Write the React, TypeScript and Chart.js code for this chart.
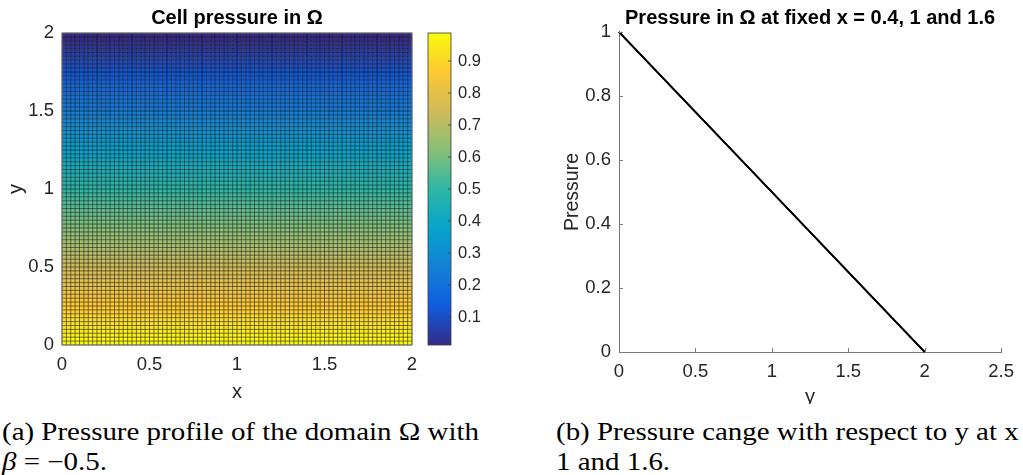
import React, { useEffect, useRef } from "react";
import { Chart, registerables } from "chart.js";

Chart.register(...registerables);

const SANS = "'Liberation Sans', Arial, sans-serif";
const SERIF = "'Liberation Serif', 'Times New Roman', serif";

// ---------- (a) cell pressure field ----------
const gridEdges = [
  0, 0.025, 0.05, 0.075, 0.1, 0.125, 0.15, 0.175, 0.2, 0.225, 0.25, 0.275, 0.3, 0.325, 0.35, 0.375,
  0.4, 0.425, 0.45, 0.475, 0.5, 0.525, 0.55, 0.575, 0.6, 0.625, 0.65, 0.675, 0.7, 0.725, 0.75, 0.775,
  0.8, 0.825, 0.85, 0.875, 0.9, 0.925, 0.95, 0.975, 1, 1.025, 1.05, 1.075, 1.1, 1.125, 1.15, 1.175,
  1.2, 1.225, 1.25, 1.275, 1.3, 1.325, 1.35, 1.375, 1.4, 1.425, 1.45, 1.475, 1.5, 1.525, 1.55, 1.575,
  1.6, 1.625, 1.65, 1.675, 1.7, 1.725, 1.75, 1.775, 1.8, 1.825, 1.85, 1.875, 1.9, 1.925, 1.95, 1.975, 2,
];
// pressure of each cell row, bottom row (y = 0) first; constant along x
const rowPressure = [
  0.9875, 0.975, 0.9625, 0.95, 0.9375, 0.925, 0.9125, 0.9, 0.8875, 0.875, 0.8625, 0.85, 0.8375, 0.825,
  0.8125, 0.8, 0.7875, 0.775, 0.7625, 0.75, 0.7375, 0.725, 0.7125, 0.7, 0.6875, 0.675, 0.6625, 0.65,
  0.6375, 0.625, 0.6125, 0.6, 0.5875, 0.575, 0.5625, 0.55, 0.5375, 0.525, 0.5125, 0.5, 0.4875, 0.475,
  0.4625, 0.45, 0.4375, 0.425, 0.4125, 0.4, 0.3875, 0.375, 0.3625, 0.35, 0.3375, 0.325, 0.3125, 0.3,
  0.2875, 0.275, 0.2625, 0.25, 0.2375, 0.225, 0.2125, 0.2, 0.1875, 0.175, 0.1625, 0.15, 0.1375, 0.125,
  0.1125, 0.1, 0.0875, 0.075, 0.0625, 0.05, 0.0375, 0.025, 0.0125, 0,
];
const fieldTicks = [0, 0.5, 1, 1.5, 2];
const colorbarTicks = [0.1, 0.2, 0.3, 0.4, 0.5, 0.6, 0.7, 0.8, 0.9];
const colorbarMin = 0.0125;
const colorbarMax = 0.9875;

// ---------- (b) pressure profiles ----------
const profileY = [0, 0.5, 1, 1.5, 2];
const pressureAtX04 = [1, 0.75, 0.5, 0.25, 0];
const pressureAtX10 = [1, 0.75, 0.5, 0.25, 0];
const pressureAtX16 = [1, 0.75, 0.5, 0.25, 0];
const profileXTicks = [0, 0.5, 1, 1.5, 2, 2.5];
const profileYTicks = [0, 0.2, 0.4, 0.6, 0.8, 1];

const parulaStops = ["#352a87", "#0f5cdd", "#1481d6", "#06a4ca", "#2eb7a4", "#87bf77", "#d1bb59", "#fec832", "#f9fb0e"];

const hexToRgb = (h: string) => [parseInt(h.slice(1, 3), 16), parseInt(h.slice(3, 5), 16), parseInt(h.slice(5, 7), 16)];
const parulaRgb = parulaStops.map(hexToRgb);
function parula(t: number): string {
  const c = Math.max(0, Math.min(1, t));
  const n = parulaRgb.length - 1;
  const p = c * n;
  const i = Math.min(n - 1, Math.floor(p));
  const f = p - i;
  const a = parulaRgb[i];
  const b = parulaRgb[i + 1];
  const m = (k: number) => Math.round(a[k] + (b[k] - a[k]) * f);
  return `rgb(${m(0)},${m(1)},${m(2)})`;
}

const TICK_COLOR = "#262626";
const AXIS_COLOR = "#7a7a7a";

// axes title centred over the plot area (like MATLAB), not over the canvas
const axesTitlePlugin = {
  id: "axesTitle",
  afterDraw(chart: any, _args: any, opts: any) {
    const { ctx, chartArea } = chart;
    ctx.save();
    ctx.font = `bold 20px ${SANS}`;
    ctx.fillStyle = "#000";
    ctx.textAlign = "center";
    ctx.textBaseline = "middle";
    ctx.fillText(opts.text, (chartArea.left + chartArea.right) / 2, opts.y);
    ctx.restore();
  },
};

const cellFieldPlugin = {
  id: "cellField",
  beforeDatasetsDraw(chart: any) {
    const { ctx, scales } = chart;
    const x = scales.x;
    const y = scales.y;
    ctx.save();
    for (let j = 0; j < rowPressure.length; j++) {
      const y0 = y.getPixelForValue(gridEdges[j]);
      const y1 = y.getPixelForValue(gridEdges[j + 1]);
      ctx.fillStyle = parula((rowPressure[j] - colorbarMin) / (colorbarMax - colorbarMin));
      for (let i = 0; i < gridEdges.length - 1; i++) {
        const x0 = x.getPixelForValue(gridEdges[i]);
        const x1 = x.getPixelForValue(gridEdges[i + 1]);
        ctx.fillRect(x0, y1, x1 - x0, y0 - y1);
      }
    }
    const top = y.getPixelForValue(gridEdges[gridEdges.length - 1]);
    const bottom = y.getPixelForValue(gridEdges[0]);
    const left = x.getPixelForValue(gridEdges[0]);
    const right = x.getPixelForValue(gridEdges[gridEdges.length - 1]);
    ctx.beginPath();
    for (const e of gridEdges) {
      const px = x.getPixelForValue(e);
      ctx.moveTo(px, top);
      ctx.lineTo(px, bottom);
      const py = y.getPixelForValue(e);
      ctx.moveTo(left, py);
      ctx.lineTo(right, py);
    }
    ctx.strokeStyle = "rgba(0,0,0,0.85)";
    ctx.lineWidth = 0.6;
    ctx.stroke();
    ctx.strokeStyle = AXIS_COLOR;
    ctx.lineWidth = 1;
    ctx.strokeRect(left, top, right - left, bottom - top);
    ctx.restore();
  },
  afterDraw(chart: any) {
    const { ctx, chartArea, scales } = chart;
    const cb = scales.cb;
    const top = cb.getPixelForValue(colorbarMax);
    const bottom = cb.getPixelForValue(colorbarMin);
    const x0 = chartArea.right + 16;
    const w = 23;
    ctx.save();
    const g = ctx.createLinearGradient(0, bottom, 0, top);
    parulaStops.forEach((c, i) => g.addColorStop(i / (parulaStops.length - 1), c));
    ctx.fillStyle = g;
    ctx.fillRect(x0, top, w, bottom - top);
    ctx.strokeStyle = "#3a3a3a";
    ctx.lineWidth = 0.8;
    ctx.strokeRect(x0, top, w, bottom - top);
    ctx.beginPath();
    for (const v of colorbarTicks) {
      const py = cb.getPixelForValue(v);
      ctx.moveTo(x0 + w, py);
      ctx.lineTo(x0 + w - 3, py);
    }
    ctx.stroke();
    ctx.restore();
  },
};

const inwardTicksPlugin = {
  id: "inwardTicks",
  afterDraw(chart: any) {
    const { ctx, chartArea: a, scales } = chart;
    ctx.save();
    ctx.strokeStyle = AXIS_COLOR;
    ctx.lineWidth = 1;
    ctx.beginPath();
    for (const v of profileXTicks) {
      const px = Math.round(scales.x.getPixelForValue(v)) + 0.5;
      ctx.moveTo(px, a.bottom);
      ctx.lineTo(px, a.bottom - 4);
    }
    for (const v of profileYTicks) {
      const py = Math.round(scales.y.getPixelForValue(v)) + 0.5;
      ctx.moveTo(a.left, py);
      ctx.lineTo(a.left + 4, py);
    }
    ctx.stroke();
    ctx.restore();
  },
};

const tickFont = { family: SANS, size: 18.5 };
const labelFont = { family: SANS, size: 20 };

export default function App() {
  const leftRef = useRef<HTMLCanvasElement>(null);
  const rightRef = useRef<HTMLCanvasElement>(null);

  useEffect(() => {
    const left = new Chart(leftRef.current as HTMLCanvasElement, {
      type: "scatter",
      data: { datasets: [] },
      options: {
        responsive: false,
        animation: false,
        layout: { padding: { top: 33, left: 0, right: 0, bottom: 0 } },
        plugins: {
          legend: { display: false },
          tooltip: { enabled: false },
          title: { display: false },
          axesTitle: { text: "Cell pressure in Ω", y: 18 },
        },
        scales: {
          x: {
            type: "linear",
            min: 0,
            max: 2,
            afterBuildTicks: (s: any) => {
              s.ticks = fieldTicks.map((v) => ({ value: v }));
            },
            afterFit: (s: any) => {
              s.height = 59;
            },
            grid: { display: false, drawTicks: false },
            border: { display: false },
            ticks: { font: tickFont, color: TICK_COLOR, padding: 9, autoSkip: false, maxRotation: 0, callback: (v: any) => String(v) },
            title: { display: true, text: "x", font: labelFont, color: TICK_COLOR, padding: { top: 0, bottom: 0 } },
          },
          y: {
            type: "linear",
            min: 0,
            max: 2,
            afterBuildTicks: (s: any) => {
              s.ticks = fieldTicks.map((v) => ({ value: v }));
            },
            afterFit: (s: any) => {
              s.width = 62;
              s.paddingTop = 0;
              s.paddingBottom = 0;
            },
            grid: { display: false, drawTicks: false },
            border: { display: false },
            ticks: { font: tickFont, color: TICK_COLOR, padding: 8, autoSkip: false, callback: (v: any) => String(v) },
            title: { display: true, text: "y", font: labelFont, color: TICK_COLOR, padding: { top: 4, bottom: 0 } },
          },
          cb: {
            type: "linear",
            axis: "y",
            position: "right",
            min: colorbarMin,
            max: colorbarMax,
            afterBuildTicks: (s: any) => {
              s.ticks = colorbarTicks.map((v) => ({ value: v }));
            },
            afterFit: (s: any) => {
              s.width = 88;
              s.paddingTop = 0;
              s.paddingBottom = 0;
            },
            grid: { display: false, drawTicks: false },
            border: { display: false },
            ticks: { font: { family: SANS, size: 16.5 }, color: TICK_COLOR, padding: 46, autoSkip: false, callback: (v: any) => String(v) },
          },
        },
      } as any,
      plugins: [cellFieldPlugin, axesTitlePlugin],
    });

    const mk = (label: string, vals: number[]) => ({
      label,
      data: profileY.map((yv, i) => ({ x: yv, y: vals[i] })),
      borderColor: "#000",
      backgroundColor: "#000",
      borderWidth: 1.8,
      pointRadius: 0,
      fill: false,
      tension: 0,
      clip: false as any,
    });

    const right = new Chart(rightRef.current as HTMLCanvasElement, {
      type: "line",
      data: {
        datasets: [mk("x = 0.4", pressureAtX04), mk("x = 1", pressureAtX10), mk("x = 1.6", pressureAtX16)],
      },
      options: {
        responsive: false,
        animation: false,
        layout: { padding: { left: 0, top: 32, right: 17, bottom: 2 } },
        plugins: {
          legend: { display: false },
          tooltip: { enabled: false },
          title: { display: false },
          axesTitle: { text: "Pressure in Ω at fixed x = 0.4, 1 and 1.6", y: 18 },
        },
        scales: {
          x: {
            type: "linear",
            min: 0,
            max: 2.5,
            afterBuildTicks: (s: any) => {
              s.ticks = profileXTicks.map((v) => ({ value: v }));
            },
            afterFit: (s: any) => {
              s.height = 57;
            },
            grid: { display: false, drawTicks: false },
            border: { display: true, color: AXIS_COLOR, width: 1 },
            ticks: { font: tickFont, color: TICK_COLOR, padding: 9, autoSkip: false, maxRotation: 0, callback: (v: any) => String(v) },
            title: { display: true, text: "y", font: labelFont, color: TICK_COLOR, padding: { top: 0, bottom: 0 } },
          },
          y: {
            type: "linear",
            min: 0,
            max: 1,
            afterBuildTicks: (s: any) => {
              s.ticks = profileYTicks.map((v) => ({ value: v }));
            },
            afterFit: (s: any) => {
              s.width = 89;
              s.paddingTop = 0;
              s.paddingBottom = 0;
            },
            grid: { display: false, drawTicks: false },
            border: { display: true, color: AXIS_COLOR, width: 1 },
            ticks: { font: tickFont, color: TICK_COLOR, padding: 8, autoSkip: false, callback: (v: any) => String(v) },
            title: { display: true, text: "Pressure", font: { family: SANS, size: 19.5 }, color: TICK_COLOR, padding: { top: 31, bottom: 0 } },
          },
        },
      } as any,
      plugins: [inwardTicksPlugin, axesTitlePlugin],
    });

    return () => {
      left.destroy();
      right.destroy();
    };
  }, []);

  const captionStyle: React.CSSProperties = {
    position: "absolute",
    top: 13,
    fontFamily: SERIF,
    fontSize: 25,
    lineHeight: "30px",
    whiteSpace: "nowrap",
    color: "#000",
    transform: "scaleX(1.157)",
    transformOrigin: "left top",
  };

  return (
    <div style={{ position: "absolute", left: 0, top: 0, width: 1023, height: 475, overflow: "hidden", background: "#fff" }}>
      <canvas ref={leftRef} width={500} height={404} style={{ position: "absolute", left: 0, top: 0 }} />
      <canvas ref={rightRef} width={493} height={411} style={{ position: "absolute", left: 530, top: 0 }} />
      <div style={{ position: "absolute", left: 0, top: 404, width: 1023, height: 71, background: "#fff", overflow: "hidden" }}>
        <div style={{ ...captionStyle, left: 2 }}>
          (a) Pressure profile of the domain Ω with
          <br />
          <i>β</i> = −0.5.
        </div>
        <div style={{ ...captionStyle, left: 556 }}>
          (b) Pressure cange with respect to y at x = 0.4,
          <br />1 and 1.6.
        </div>
      </div>
    </div>
  );
}
